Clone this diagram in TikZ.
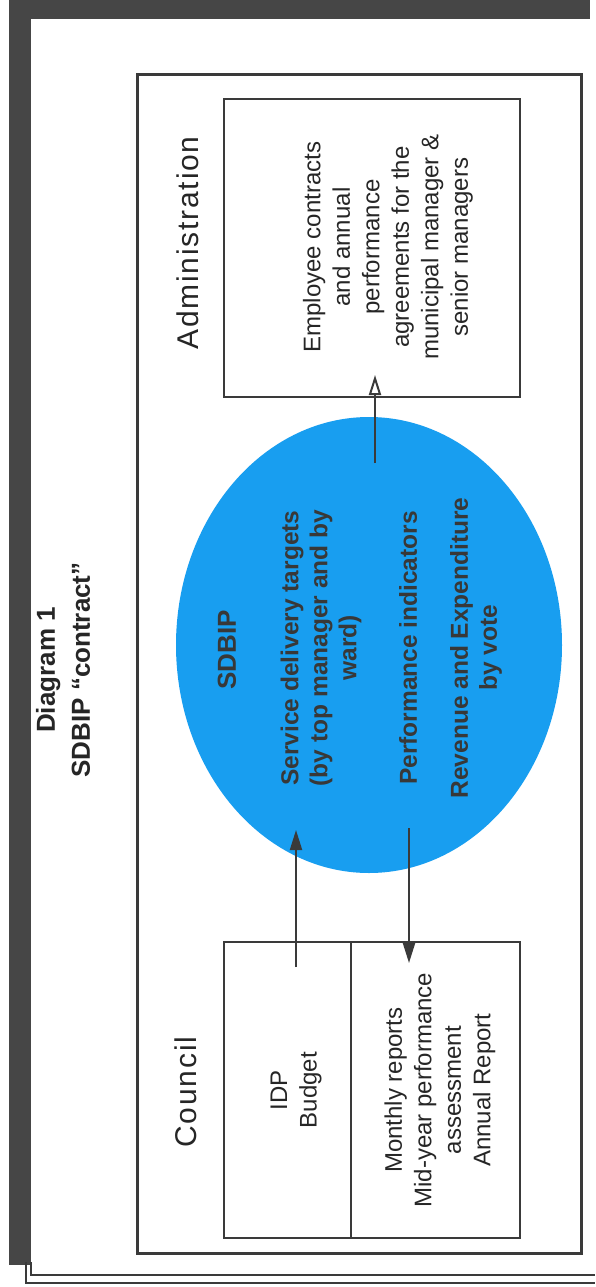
\documentclass[tikz,border=0pt]{standalone}
\usepackage{fontspec}
\setmainfont{Liberation Sans}
\usetikzlibrary{shapes.geometric,arrows.meta}
\definecolor{sdblue}{RGB}{24,158,240}
\definecolor{ink}{RGB}{58,58,58}
\definecolor{barc}{RGB}{70,70,70}
\begin{document}
\begin{tikzpicture}[x=1pt,y=-1pt,
  box/.style={draw=ink, line width=2.2pt, inner sep=0pt},
  vtext/.style={rotate=90, align=center, text=black!85, inner sep=0pt},
  boxtxt/.style={vtext, font=\fontsize{24}{29.5}\selectfont},
  elltxt/.style={vtext, font=\bfseries\fontsize{24.5}{29}\selectfont, text=black!78},
  headtxt/.style={vtext, font=\fontsize{30}{36}\selectfont\addfontfeature{LetterSpace=6}},
  titletxt/.style={vtext, font=\bfseries\fontsize{26}{35}\selectfont},
  arr/.style={draw=ink, line width=2pt, -{Triangle[length=20pt,width=12pt]}},
  arropen/.style={draw=ink, line width=2pt, -{Triangle[open,length=20pt,width=12pt,fill=white]}}
]
\useasboundingbox (0,0) rectangle (595,1287);
\fill[white] (0,0) rectangle (595,1287);
% outer frame
\fill[barc] (9,0) rectangle (31,1265);
\fill[barc] (9,0) rectangle (590,19);
\draw[ink, line width=1.4pt] (26,1262) -- (26,1283) -- (595,1283);
\draw[ink, line width=1.4pt] (31,1262) -- (31,1275) -- (595,1275);
% inner frame
\node[draw=ink, line width=3pt, minimum width=444, minimum height=1178, inner sep=0pt] (frame) at (359,664) {};
% title
\node[titletxt] (title) at (63,670) {Diagram 1\\SDBIP “contract”};
% headings
\node[headtxt] (adminlabel) at (188,243) {Administration};
\node[headtxt] (councillabel) at (186,1092) {Council};
% boxes
\node[box, minimum width=296, minimum height=298] (admin) at (372,248) {};
\node[box, minimum width=127, minimum height=296] (idp) at (287.5,1090) {};
\node[box, minimum width=169, minimum height=296] (monthly) at (435.5,1090) {};
% ellipse
\node[ellipse, fill=sdblue, minimum width=386, minimum height=456, inner sep=0pt] (sdbip) at (369,645) {};
% box texts
\node[boxtxt] (admintext) at (388,247) {Employee contracts\\and annual\\performance\\agreements for the\\municipal manager \&\\senior managers};
\node[boxtxt] (idptext) at (296,1090) {IDP\\Budget};
\node[boxtxt] (monthlytext) at (440,1090) {Monthly reports\\Mid-year performance\\assessment\\Annual Report};
% ellipse texts
\node[elltxt, font=\bfseries\fontsize{26}{30}\selectfont] (sdbiptitle) at (227,650) {SDBIP};
\node[elltxt] (sdbip1) at (321,648) {Service delivery targets\\(by top manager and by\\ward)};
\node[elltxt] (sdbip2) at (408,648) {Performance indicators};
\node[elltxt] (sdbip3) at (476,648) {Revenue and Expenditure\\by vote};
% connectors
\coordinate (a1s) at (375,463);
\coordinate (a1e) at (375,375);
\coordinate (a2s) at (296,967);
\coordinate (a2e) at (296,830);
\coordinate (a3s) at (409,828);
\coordinate (a3e) at (409,963);
\draw[arropen] (a1s) -- (a1e);
\draw[arr] (a2s) -- (a2e);
\draw[arr] (a3s) -- (a3e);
\end{tikzpicture}
\end{document}
